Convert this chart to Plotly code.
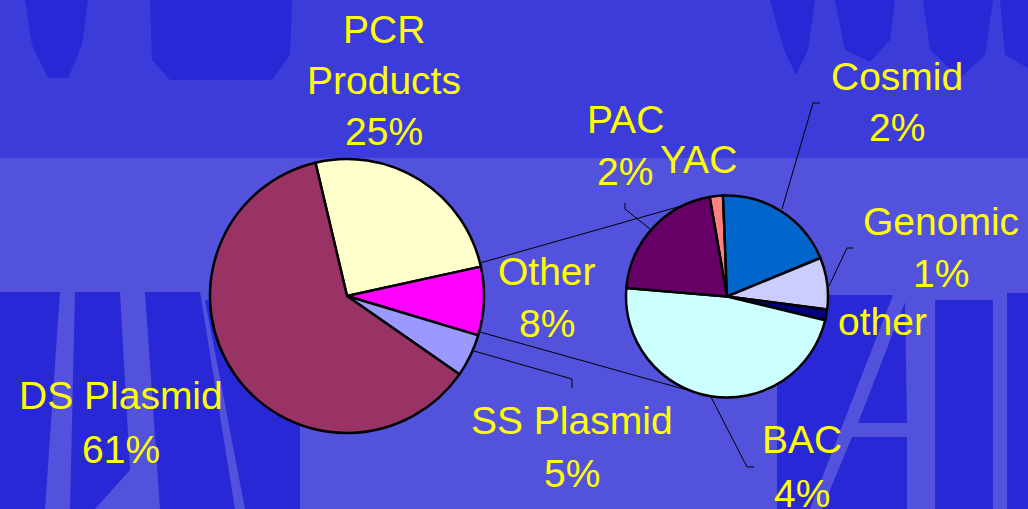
import plotly.graph_objects as go

W, H = 1028, 509

# main pie
main_labels = ["PCR Products", "Other", "SS Plasmid", "DS Plasmid"]
main_values = [25.0, 8.0, 5.0, 61.0]
main_colors = ["#FFFFCC", "#FF00FF", "#9999FF", "#993366"]

# breakdown of "Other"
sub_labels = ["YAC", "Cosmid", "Genomic", "other", "BAC", "PAC"]
sub_values = [0.17, 1.55, 0.66, 0.14, 3.80, 1.67]
sub_colors = ["#FF8080", "#0066CC", "#CCCCFF", "#000080", "#CCFFFF", "#660066"]

# label text lines: (lines, centre x px, first baseline px, line gap px)
label_lines = [
    (["PCR", "Products", "25%"], 384, 43, 51),
    (["DS Plasmid", "61%"], 121, 409, 54),
    (["SS Plasmid", "5%"], 572, 434, 53),
    (["Other", "8%"], 547, 285, 52),
    (["BAC", "4%"], 802, 453, 54),
    (["Cosmid", "2%"], 897, 90, 51),
    (["Genomic", "1%"], 941, 235, 52),
    (["other"], 882, 335, 0),
    (["PAC", "2%"], 625, 133, 52),
    (["YAC"], 698, 173, 0),
]

# leader / series lines in px
leaders = [
    [(480, 263), (713, 197)],
    [(480, 332), (712, 397)],
    [(474, 351), (572, 379), (572, 388)],
    [(711, 397), (747, 467), (754, 467)],
    [(782, 209), (813, 103), (820, 103)],
    [(829, 286), (847, 248), (853, 248)],
    [(650, 229), (625, 209), (625, 203)],
]

# dark watermark blobs of the slide background, px polygons
watermark = [
    [(25, 0), (88, 0), (82, 45), (68, 78), (48, 78), (32, 45)],
    [(150, 0), (292, 0), (290, 55), (272, 80), (170, 80), (152, 60)],
    [(770, 0), (815, 0), (808, 50), (796, 75), (784, 50)],
    [(835, 0), (895, 0), (890, 40), (870, 62), (845, 50)],
    [(923, 0), (993, 0), (985, 55), (960, 78), (930, 50)],
    [(1000, 0), (1028, 0), (1028, 68), (1005, 55)],
    [(0, 292), (60, 292), (45, 509), (0, 509)],
    [(75, 292), (120, 292), (130, 470), (95, 509), (70, 509)],
    [(145, 292), (200, 292), (235, 509), (160, 509)],
    [(205, 300), (300, 300), (300, 509), (245, 509)],
    [(777, 295), (893, 295), (810, 509), (777, 509)],
    [(905, 302), (907, 423), (858, 423)],
    [(852, 437), (907, 437), (907, 509), (822, 509)],
    [(935, 300), (993, 300), (993, 509), (935, 509)],
    [(1007, 293), (1028, 293), (1028, 509), (1007, 509)],
]

FONT = "Liberation Sans, Arial, sans-serif"
FS = 39


def px(x):
    return x / W


def py(y):
    return 1 - y / H


def poly(pts, close=True):
    p = "M " + " L ".join(f"{px(x)},{py(y)}" for x, y in pts)
    return p + (" Z" if close else "")


fig = go.Figure()

fig.add_trace(go.Pie(
    labels=main_labels, values=main_values, sort=False, direction="clockwise",
    rotation=-13.3, textinfo="none", hoverinfo="label+percent",
    marker=dict(colors=main_colors, line=dict(color="black", width=2.5)),
    domain=dict(x=[px(210), px(484)], y=[py(433), py(159)]),
    showlegend=False,
))
fig.add_trace(go.Pie(
    labels=sub_labels, values=sub_values, sort=False, direction="clockwise",
    rotation=-9.9, textinfo="none", hoverinfo="label+value",
    marker=dict(colors=sub_colors, line=dict(color="black", width=2.5)),
    domain=dict(x=[px(626), px(828)], y=[py(398), py(195)]),
    showlegend=False,
))

shapes = [
    dict(type="rect", xref="paper", yref="paper", x0=0, x1=1, y0=0, y1=py(158),
         fillcolor="#5252DD", line=dict(width=0), layer="below"),
    dict(type="rect", xref="paper", yref="paper", x0=0, x1=1, y0=py(158), y1=1,
         fillcolor="#3C3CDA", line=dict(width=0), layer="below"),
]
for pts in watermark:
    shapes.append(dict(type="path", xref="paper", yref="paper", path=poly(pts),
                       fillcolor="#2828D6", line=dict(width=0), layer="below"))
for pts in leaders:
    shapes.append(dict(type="path", xref="paper", yref="paper", path=poly(pts, False),
                       line=dict(color="black", width=1), layer="below"))

annotations = []
for lines, cx, base, gap in label_lines:
    for i, t in enumerate(lines):
        annotations.append(dict(
            text=t, x=px(cx), y=py(base + i * gap - 0.35 * FS), xref="paper", yref="paper",
            showarrow=False, xanchor="center", yanchor="middle",
            font=dict(family=FONT, size=FS, color="#FFFF00"),
        ))

fig.update_layout(
    width=W, height=H, margin=dict(l=0, r=0, t=0, b=0),
    paper_bgcolor="#4A4ADC", plot_bgcolor="#4A4ADC",
    shapes=shapes, annotations=annotations,
)

fig.write_html("out.html", config={"displayModeBar": False},
               post_script="document.body.style.margin='0';")
